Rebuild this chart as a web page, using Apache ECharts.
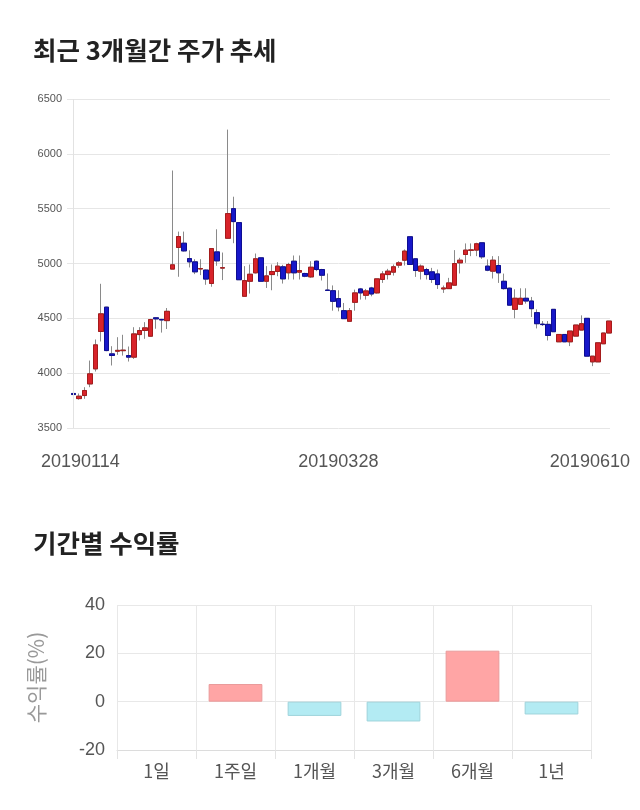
<!DOCTYPE html>
<html>
<head>
<meta charset="utf-8">
<script src="https://cdn.jsdelivr.net/npm/echarts@6/dist/echarts.min.js"></script>
<style>
html,body{margin:0;padding:0;background:#fff;}
#c{width:640px;height:810px;}
</style>
</head>
<body>
<div id="c"></div>
<script>
// ---- Data ----
const dates = [
'20190114','20190115','20190116','20190117','20190118','20190121','20190122','20190123','20190124','20190125','20190128','20190129','20190130','20190131',
'20190207','20190208','20190211','20190212','20190213','20190214','20190215','20190218','20190219','20190220','20190221','20190222','20190225','20190226','20190227','20190228',
'20190304','20190305','20190306','20190307','20190308','20190311','20190312','20190313','20190314','20190315','20190318','20190319','20190320','20190321','20190322','20190325','20190326','20190327','20190328','20190329',
'20190401','20190402','20190403','20190404','20190405','20190408','20190409','20190410','20190411','20190412','20190415','20190416','20190417','20190418','20190419','20190422','20190423','20190424','20190425','20190426','20190429','20190430',
'20190502','20190503','20190507','20190508','20190509','20190510','20190513','20190514','20190515','20190516','20190517','20190520','20190521','20190522','20190523','20190524','20190527','20190528','20190529','20190530','20190531',
'20190603','20190604','20190605','20190607','20190610'
];
const openPrices = [3815,3768,3796,3902,4039,4380,4602,4176,4200,4205,4161,4146,4352,4389,4337,4505,4490,4479,4949,5146,
5185,5045,5015,4950,4940,4818,5106,4958,5230,5500,5373,4701,4838,4915,5052,4838,4899,4927,4970,4915,
5021,4921,4909,4878,5021,4945,4758,4752,4680,4570,4473,4646,4768,4710,4777,4732,4854,4899,4921,4985,
5030,5244,5043,4930,4945,4924,4905,4768,4771,4802,5006,5082,5120,5122,5189,4976,4930,4982,4838,4775,
4582,4628,4683,4658,4552,4447,4445,4582,4286,4353,4286,4338,4393,4500,4103,4103,4268,4366];
const closePrices = [3805,3790,3842,3994,4258,4541,4206,4161,4208,4210,4146,4358,4389,4413,4489,4495,4485,4564,4988,5246,
5115,5015,4924,4954,4858,5136,5024,4962,5455,5382,4852,4844,4902,5043,4838,4887,4927,4976,4860,4991,
4915,4936,4884,4966,4945,4893,4754,4655,4604,4497,4570,4732,4732,4750,4722,4860,4905,4930,4970,5006,
5113,4991,4936,4976,4899,4854,4808,4777,4823,5000,5030,5122,5124,5180,5061,4939,5030,4915,4771,4620,
4683,4683,4658,4588,4451,4443,4344,4378,4353,4286,4384,4439,4451,4155,4155,4277,4366,4475];
const lowPrices = [3770,3758,3766,3872,4015,4289,4200,4070,4167,4160,4106,4130,4298,4313,4330,4405,4370,4403,4949,4879,
5109,4964,4903,4894,4806,4788,4979,4849,5230,5185,4852,4701,4726,4909,4838,4777,4756,4884,4817,4854,
4854,4854,4875,4869,4930,4845,4754,4570,4564,4497,4473,4570,4671,4671,4701,4726,4823,4854,4890,4960,
4982,4991,4878,4854,4854,4823,4768,4732,4768,4802,4909,5006,5067,5067,5043,4930,4863,4823,4762,4620,
4500,4628,4634,4512,4408,4430,4298,4378,4286,4286,4247,4338,4393,4155,4064,4103,4268,4366];
const highPrices = [3840,3815,3872,4115,4307,4815,4605,4246,4328,4350,4243,4419,4419,4465,4495,4510,4495,4594,5848,5291,
5291,5120,5039,5039,4945,5136,5312,5100,6221,5609,5373,4976,4991,5091,5052,4976,4991,5012,4988,5006,
5073,5073,4915,5021,5027,4951,4909,4800,4756,4640,4594,4762,4777,4768,4787,4860,4930,4951,4991,5021,
5128,5244,5043,4991,4960,4960,4945,4799,4869,5122,5052,5183,5183,5189,5189,5037,5067,5067,4908,4780,
4765,4774,4774,4695,4582,4475,4475,4582,4353,4353,4384,4439,4527,4500,4155,4277,4366,4475];
const priceTicks = [3500, 6500, 500];           // min, max, step
const dateLabelIndex = [0, 48, 97];

const periods = ['1일','1주일','1개월','3개월','6개월','1년'];
const returns = [0, 7.3, -5.9, -8.2, 21.1, -5.3];
const returnTicks = [-20, 40, 20];              // min, max, step

// ---- Build ----
const wickData = dates.map((d, i) => [i, openPrices[i], closePrices[i], lowPrices[i], highPrices[i]]);
const bodyData = dates.map((d, i) => [i, openPrices[i], closePrices[i],
  Math.min(openPrices[i], closePrices[i]), Math.max(openPrices[i], closePrices[i])]);

const FONT_NUM = 'Liberation Sans, Arial, Noto Sans CJK KR, sans-serif';
const FONT_KR = 'Noto Sans CJK KR, Liberation Sans, sans-serif';

const chart = echarts.init(document.getElementById('c'), null, {renderer: 'canvas'});
const option = {
  animation: false,
  backgroundColor: '#ffffff',
  title: [
    {text: '최근 3개월간 주가 추세', left: 28, top: 33,
     textStyle: {fontSize: 25.5, fontWeight: 'bold', color: '#222', fontFamily: FONT_KR}},
    {text: '기간별 수익률', left: 28, top: 526,
     textStyle: {fontSize: 25.5, fontWeight: 'bold', color: '#222', fontFamily: FONT_KR}}
  ],
  grid: [
    {left: 67, right: 30, top: 99, height: 329},
    {left: 117, right: 49, top: 605, height: 145}
  ],
  xAxis: [
    {
      type: 'value', gridIndex: 0, min: -1.15, max: 97.2,
      splitLine: {show: false}, axisLine: {show: false}, axisTick: {show: false},
      axisLabel: {
        customValues: dateLabelIndex,
        margin: 25, color: '#555', fontSize: 18, fontFamily: FONT_NUM,
        formatter: function (v) {
          const idx = Math.round(v);
          if (idx === dateLabelIndex[0]) return '{f|' + dates[idx] + '}';
          if (idx === dateLabelIndex[dateLabelIndex.length - 1]) return '{l|' + dates[idx] + '}';
          return '{m|' + dates[idx] + '}';
        },
        rich: {
          f: {padding: [0, 0, 0, 14], color: '#555', fontSize: 18, fontFamily: FONT_NUM},
          m: {color: '#555', fontSize: 18, fontFamily: FONT_NUM},
          l: {padding: [0, 38, 0, 0], color: '#555', fontSize: 18, fontFamily: FONT_NUM}
        }
      }
    },
    {
      type: 'category', gridIndex: 1, data: periods,
      axisLine: {onZero: false, lineStyle: {color: '#dcdcdc'}},
      axisTick: {show: true, length: 9, lineStyle: {color: '#e3e3e3'}},
      splitLine: {show: true, lineStyle: {color: '#e8e8e8'}},
      axisLabel: {color: '#555', fontSize: 18, margin: 12, fontFamily: FONT_KR}
    }
  ],
  yAxis: [
    {
      type: 'value', gridIndex: 0, min: priceTicks[0], max: priceTicks[1], interval: priceTicks[2],
      axisLine: {show: false}, axisTick: {show: false},
      splitLine: {lineStyle: {color: '#e6e6e6'}},
      axisLabel: {color: '#555', fontSize: 11, margin: 5, fontFamily: FONT_NUM,
        formatter: function (v) { return String(v); }}
    },
    {
      type: 'value', gridIndex: 1, min: returnTicks[0], max: returnTicks[1], interval: returnTicks[2],
      name: '수익률(%)', nameLocation: 'middle', nameGap: 70,
      nameTextStyle: {color: '#999', fontSize: 21, fontFamily: FONT_KR},
      axisLine: {show: false}, axisTick: {show: false},
      splitLine: {lineStyle: {color: '#e8e8e8'}},
      axisLabel: {color: '#555', fontSize: 18, margin: 12, fontFamily: FONT_NUM}
    }
  ],
  series: [
    {
      type: 'candlestick', name: 'wick', xAxisIndex: 0, yAxisIndex: 0,
      data: wickData, encode: {x: 0, y: [1, 2, 3, 4]},
      barWidth: 5, silent: true,
      itemStyle: {color: '#999', color0: '#999', borderColor: '#8a8a8a', borderColor0: '#8a8a8a', borderWidth: 1},
      markLine: {
        silent: true, symbol: ['none', 'none'], label: {show: false},
        lineStyle: {color: '#e2e2e2', type: 'solid', width: 1},
        data: [{xAxis: 0}]
      },
      z: 2
    },
    {
      type: 'candlestick', name: 'body', xAxisIndex: 0, yAxisIndex: 0,
      data: bodyData, encode: {x: 0, y: [1, 2, 3, 4]},
      barWidth: 5, silent: true,
      itemStyle: {color: '#d8232a', color0: '#1717c9', borderColor: '#a51b1b', borderColor0: '#0d0d92', borderWidth: 1},
      z: 3
    },
    {
      type: 'bar', xAxisIndex: 1, yAxisIndex: 1, barWidth: '68%',
      data: returns.map(v => ({
        value: v,
        itemStyle: v === 0
          ? {color: 'rgba(0,0,0,0)', borderWidth: 0}
          : v > 0
            ? {color: '#ffa5a5', borderColor: '#e99a9a', borderWidth: 1}
            : {color: '#b3ebf3', borderColor: '#9fd3db', borderWidth: 1}
      }))
    }
  ]
};
chart.setOption(option);
</script>
</body>
</html>
